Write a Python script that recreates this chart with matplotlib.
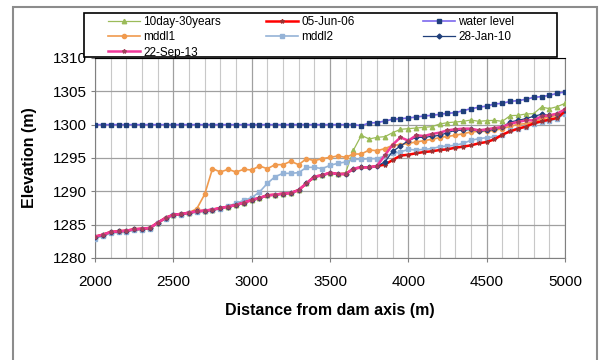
import matplotlib
matplotlib.use("Agg")
import matplotlib.pyplot as plt
from matplotlib.patches import Rectangle
from matplotlib.ticker import MultipleLocator

plt.rcParams['font.family'] = ['Liberation Sans', 'DejaVu Sans']

# distance from dam axis, every 50 m
distance = list(range(2000, 5001, 50))

# common river-bed profile 2000..3800 m
bed = [1283.2, 1283.5, 1283.9, 1284.0, 1284.1, 1284.3, 1284.4, 1284.5, 1285.3, 1286.0,
       1286.5, 1286.6, 1286.8, 1287.0, 1287.1, 1287.25, 1287.5, 1287.7, 1287.95, 1288.3,
       1288.7, 1289.0, 1289.4, 1289.5, 1289.65, 1289.75, 1290.2, 1291.2, 1292.2, 1292.4,
       1292.8, 1292.6, 1292.6, 1293.4, 1293.6, 1293.6, 1293.8]

jun06 = bed + [1294.0, 1294.7, 1295.35, 1295.5, 1295.7, 1295.9, 1296.0, 1296.2, 1296.3, 1296.55,
               1296.7, 1296.9, 1297.2, 1297.4, 1297.8, 1298.5, 1299.0, 1299.4, 1299.7, 1300.2,
               1300.5, 1300.75, 1301.0, 1302.0]

jan10 = bed + [1294.4, 1296.0, 1296.8, 1297.6, 1298.1, 1298.1, 1298.25, 1298.4, 1298.8, 1299.15,
               1299.15, 1299.3, 1299.0, 1299.15, 1299.3, 1299.65, 1300.4, 1300.65, 1300.9, 1301.25,
               1301.55, 1301.4, 1301.65, 1302.15]

sep13 = bed + [1295.4, 1297.0, 1298.1, 1297.6, 1298.4, 1298.3, 1298.6, 1298.8, 1299.15, 1299.3,
               1299.4, 1299.4, 1299.15, 1299.3, 1299.5, 1299.65, 1300.15, 1300.4, 1300.65, 1300.65,
               1301.25, 1301.4, 1301.65, 1302.3]

day10_30y = bed[:32] + [1292.8, 1296.2, 1298.4, 1297.85, 1298.1, 1298.2, 1298.8, 1299.3, 1299.4,
                        1299.5, 1299.6, 1299.7, 1300.1, 1300.3, 1300.4, 1300.5, 1300.7, 1300.5,
                        1300.6, 1300.65, 1300.5, 1301.35, 1301.4, 1301.6, 1301.65, 1302.65, 1302.4,
                        1302.7, 1303.2]

mddl1 = bed[:13] + [1287.4, 1289.55, 1293.4, 1292.9, 1293.3, 1292.9, 1293.3, 1293.2, 1293.8,
                    1293.4, 1294.0, 1294.0, 1294.5, 1294.0, 1294.9, 1294.6, 1294.9, 1295.1, 1295.3,
                    1295.1, 1295.6, 1295.6, 1296.2, 1296.1, 1296.4, 1296.9, 1297.0, 1297.2, 1297.4,
                    1297.6, 1297.8, 1298.05, 1298.25, 1298.4, 1298.65, 1298.9, 1299.0, 1299.0,
                    1299.15, 1299.4, 1299.75, 1300.05, 1300.15, 1300.4, 1300.9, 1301.15, 1301.4,
                    1301.9]

mddl2 = [1282.9, 1283.3, 1283.7, 1283.85, 1283.95, 1284.15, 1284.25, 1284.4, 1285.2, 1285.9,
         1286.4, 1286.5, 1286.7, 1286.9, 1287.0, 1287.15, 1287.4, 1287.8, 1288.2, 1288.65,
         1289.05, 1289.9, 1291.2, 1292.2, 1292.7, 1292.7, 1292.8, 1293.6, 1293.6, 1293.4,
         1293.9, 1294.2, 1294.4, 1294.8, 1294.8, 1294.9, 1294.9, 1295.3, 1295.7, 1295.9,
         1296.3, 1296.2, 1296.3, 1296.4, 1296.7, 1296.8, 1296.9, 1297.2, 1297.65, 1297.9,
         1298.05, 1298.15, 1298.4, 1299.15, 1299.4, 1299.65, 1300.15, 1300.4, 1300.55, 1300.9,
         1301.65]

water_level = [1300.0] * 34 + [1299.85, 1300.25, 1300.3, 1300.55, 1300.8, 1300.9, 1301.0,
                               1301.15, 1301.3, 1301.4, 1301.55, 1301.7, 1301.8, 1302.1, 1302.4,
                               1302.6, 1302.8, 1303.1, 1303.2, 1303.5, 1303.6, 1303.8, 1304.1,
                               1304.2, 1304.4, 1304.7, 1304.9]

x_ticks = [2000, 2500, 3000, 3500, 4000, 4500, 5000]
y_ticks = [1280, 1285, 1290, 1295, 1300, 1305, 1310]

W, H = 600, 360
fig = plt.figure(figsize=(6, 3.6), dpi=100)
fig.patch.set_facecolor('white')
# outer chart border
fig.patches.append(Rectangle((13 / W, -0.05), 584 / W, 1.05 - 7 / H,
                             transform=fig.transFigure, fill=False,
                             edgecolor='#8c8c8c', linewidth=1.5))

ax = fig.add_axes([95 / W, 1 - 258 / H, 470 / W, 200 / H])

h_day = ax.plot(distance, day10_30y, color='#9BBB59', lw=0.9, marker='^', ms=3.2,
                label='10day-30years', zorder=3)[0]
h_m1 = ax.plot(distance, mddl1, color='#F09A4E', lw=1.2, marker='o', ms=3,
               label='mddl1', zorder=3)[0]
h_m2 = ax.plot(distance, mddl2, color='#95B3D7', lw=1.2, marker='s', ms=3,
               label='mddl2', zorder=3)[0]
h_jun = ax.plot(distance, jun06, color='#FF0000', lw=1.8, marker='*', ms=3,
                mfc='#993333', mec='#993333', label='05-Jun-06', zorder=4)[0]
h_jan = ax.plot(distance, jan10, color='#1F3F7A', lw=0.9, marker='D', ms=2.5,
                label='28-Jan-10', zorder=5)[0]
h_sep = ax.plot(distance, sep13, color='#F0399A', lw=1.8, marker='*', ms=3,
                mfc='#A0405A', mec='#A0405A', label='22-Sep-13', zorder=6)[0]
h_wl = ax.plot(distance, water_level, color='#7B68EE', lw=1.2, marker='s', ms=3,
               mfc='#1F3F7A', mec='#1F3F7A', label='water level', zorder=5)[0]

ax.set_xlim(2000, 5000)
ax.set_ylim(1280, 1310)
ax.set_xticks(x_ticks)
ax.set_yticks(y_ticks)
ax.xaxis.set_minor_locator(MultipleLocator(100))
ax.grid(True, which='major', color='#a0a0a0', lw=0.9)
ax.grid(True, which='minor', axis='x', color='#c8c8c8', lw=0.8)
ax.tick_params(axis='both', which='major', labelsize=11, length=3, color='#808080', pad=3)
ax.tick_params(axis='x', which='minor', length=0)
ax.tick_params(axis='x', pad=9)
for side in ['left', 'bottom', 'right']:
    ax.spines[side].set_color('#808080')
ax.spines['top'].set_color('#000000')

ax.set_xlabel('Distance from dam axis (m)', fontsize=11.5, fontweight='bold', labelpad=10)
ax.set_ylabel('Elevation (m)', fontsize=11.5, fontweight='bold', labelpad=11)

# legend frame, then one legend per column so the columns sit where they do in the reference
fig.patches.append(Rectangle((84 / W, 1 - 57 / H), 473 / W, 44 / H,
                             transform=fig.transFigure, facecolor='white',
                             edgecolor='black', linewidth=1.2, zorder=9))
columns = [([h_day, h_m1, h_sep], ['10day-30years', 'mddl1', '22-Sep-13'], 108),
           ([h_jun, h_m2], ['05-Jun-06', 'mddl2'], 266),
           ([h_wl, h_jan], ['water level', '28-Jan-10'], 423)]
for handles, labels, x0 in columns:
    leg = fig.legend(handles, labels, loc='upper left',
                     bbox_to_anchor=(x0 / W, 1 - 16 / H), fontsize=8.5, frameon=False,
                     borderpad=0, labelspacing=0.28, handlelength=2.7,
                     handletextpad=0.3, borderaxespad=0)
    leg.set_zorder(10)

fig.savefig('out.png', dpi=100, facecolor='white')
